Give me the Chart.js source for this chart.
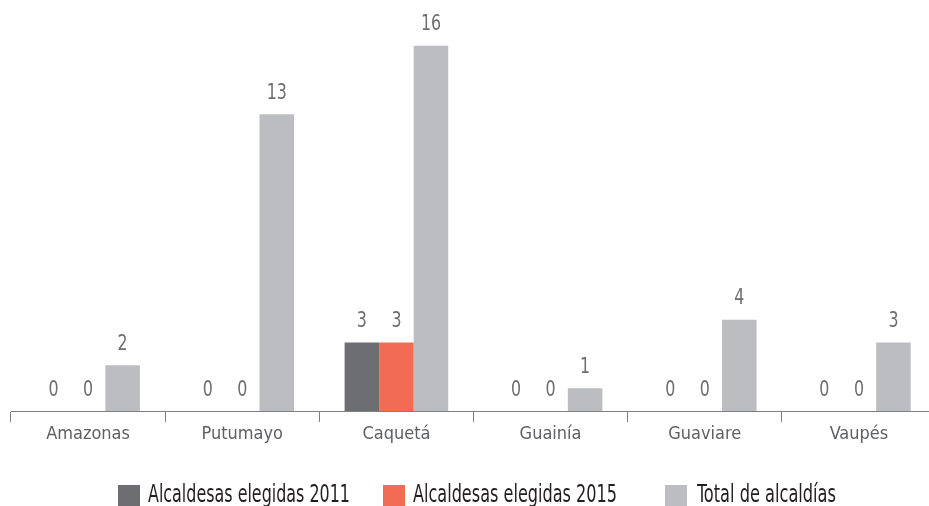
<!DOCTYPE html>
<html>
<head>
<meta charset="utf-8">
<script src="https://cdn.jsdelivr.net/npm/chart.js@4"></script>
<style>
  html, body { margin: 0; padding: 0; background: #fff; overflow: hidden; }
  #wrap { position: relative; width: 936px; height: 506px; }
  #box { position: absolute; left: 0; top: 0; width: 936px; height: 447px; }
  #legend { position: absolute; top: 0; left: 0; width: 936px; height: 506px; pointer-events: none;
    font-family: "DejaVu Sans Condensed", "Liberation Sans Narrow", sans-serif; font-size: 25px; color: #231f20; }
  #legend .sw { position: absolute; top: 485px; width: 22px; height: 22px; }
  #legend .tx { position: absolute; top: 479px; white-space: nowrap; transform-origin: 0 0; line-height: 30px; }
</style>
</head>
<body>
<div id="wrap">
  <div id="box"><canvas id="chart"></canvas></div>
  <div id="legend"></div>
</div>
<script>
// data
var departamentos = ['Amazonas', 'Putumayo', 'Caquetá', 'Guainía', 'Guaviare', 'Vaupés'];
var elegidas2011 = [0, 0, 3, 0, 0, 0];
var elegidas2015 = [0, 0, 3, 0, 0, 0];
var totalAlcaldias = [2, 13, 16, 1, 4, 3];
var seriesNames = ['Alcaldesas elegidas 2011', 'Alcaldesas elegidas 2015', 'Total de alcaldías'];
var seriesColors = ['#6d6e71', '#f26c55', '#bcbdc0'];

var condensed = '"DejaVu Sans Condensed", "Liberation Sans Narrow", sans-serif';

// draws the value above every bar, squeezed to look like the condensed face
var valueLabels = {
  id: 'valueLabels',
  afterDatasetsDraw: function(chart) {
    var ctx = chart.ctx;
    chart.data.datasets.forEach(function(ds, i) {
      chart.getDatasetMeta(i).data.forEach(function(bar, j) {
        ctx.save();
        ctx.translate(bar.x, bar.y - 21);
        ctx.scale(0.8, 1);
        ctx.font = '22px ' + condensed;
        ctx.fillStyle = '#6d6e71';
        ctx.textAlign = 'center';
        ctx.textBaseline = 'middle';
        ctx.fillText(ds.data[j], 0, 0);
        ctx.restore();
      });
    });
  }
};

var ctx = document.getElementById('chart').getContext('2d');
var chart = new Chart(ctx, {
  type: 'bar',
  data: {
    labels: departamentos,
    datasets: [
      { label: seriesNames[0], data: elegidas2011, backgroundColor: seriesColors[0] },
      { label: seriesNames[1], data: elegidas2015, backgroundColor: seriesColors[1] },
      { label: seriesNames[2], data: totalAlcaldias, backgroundColor: seriesColors[2] }
    ]
  },
  options: {
    responsive: true,
    maintainAspectRatio: false,
    animation: false,
    layout: { padding: { left: 11, right: 0, top: 0, bottom: 0 } },
    datasets: { bar: { categoryPercentage: 0.672, barPercentage: 1.0 } },
    plugins: {
      legend: { display: false },
      tooltip: { enabled: false }
    },
    scales: {
      x: {
        grid: { offset: true, drawOnChartArea: false, drawTicks: true, tickLength: 11, color: '#808080' },
        border: { color: '#808080', width: 1 },
        ticks: { color: '#5f6062', font: { family: condensed, size: 18 }, padding: 2 },
        afterFit: function(s) { s.height = 36; }
      },
      y: { display: false, min: 0, max: 18 }
    }
  },
  plugins: [valueLabels]
});

// html legend, each text squeezed to the width it has in the picture
var legend = document.getElementById('legend');
var swatchX = [118, 383, 665];
var textX = [148, 413, 697];
var textW = [202, 204, 139];
seriesNames.forEach(function(name, i) {
  var sw = document.createElement('div');
  sw.className = 'sw';
  sw.style.left = swatchX[i] + 'px';
  sw.style.background = seriesColors[i];
  var tx = document.createElement('div');
  tx.className = 'tx';
  tx.style.left = textX[i] + 'px';
  tx.textContent = name;
  legend.appendChild(sw);
  legend.appendChild(tx);
  var w = tx.getBoundingClientRect().width;
  tx.style.transform = 'scaleX(' + (textW[i] / w) + ')';
});
</script>
</body>
</html>
